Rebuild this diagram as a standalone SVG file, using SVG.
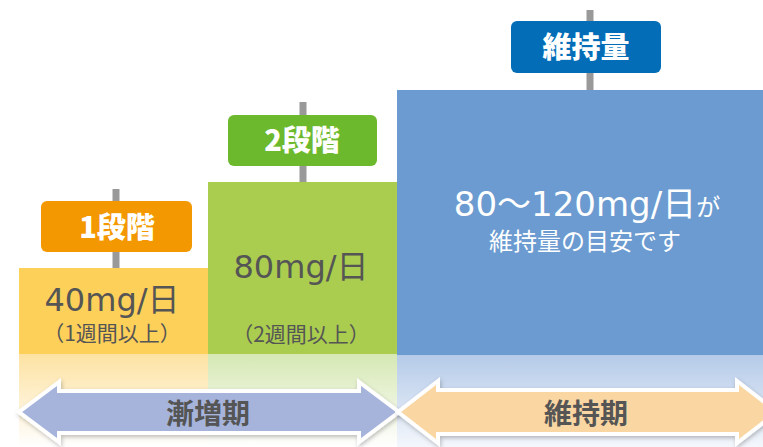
<svg xmlns="http://www.w3.org/2000/svg" width="763" height="447" viewBox="0 0 763 447">
<defs>
<linearGradient id="gy" x1="0" y1="0" x2="0" y2="1"><stop offset="0" stop-color="#FDE2A2"/><stop offset="1" stop-color="#FFFFFF"/></linearGradient>
<linearGradient id="gg" x1="0" y1="0" x2="0" y2="1"><stop offset="0" stop-color="#D6E8B4"/><stop offset="1" stop-color="#FFFFFF"/></linearGradient>
<linearGradient id="gb" x1="0" y1="0" x2="0" y2="1"><stop offset="0" stop-color="#B4CAE8"/><stop offset="1" stop-color="#F4F7FC"/></linearGradient>
<filter id="sh" x="-10%" y="-30%" width="120%" height="160%"><feDropShadow dx="1" dy="2" stdDeviation="2" flood-color="#000" flood-opacity="0.25"/></filter>
<style>
.t{font-family:"DejaVu Sans","Noto Sans CJK JP",sans-serif;}
.j{font-family:"Noto Sans CJK JP","Noto Sans",sans-serif;}
.dose{font-size:32px;fill:#555555;text-anchor:middle;}
.sub{font-size:21px;fill:#555555;text-anchor:middle;}
.lab{font-size:29px;font-weight:900;fill:#FFFFFF;text-anchor:middle;}
.per{font-size:28px;font-weight:bold;fill:#555555;text-anchor:middle;}
.stem{fill:#999999;}
</style>
</defs>
<rect x="0" y="0" width="763" height="447" fill="#FFFFFF"/>
<g id="fades">
<rect x="19" y="354" width="189" height="93" fill="url(#gy)"/>
<rect x="208" y="354" width="189" height="93" fill="url(#gg)"/>
<rect x="397" y="354" width="366" height="93" fill="url(#gb)"/>
</g>
<g id="step1">
<rect x="19" y="268" width="189" height="86" fill="#FDD05A"/>
<rect class="stem" x="112.5" y="189" width="7" height="79"/>
<rect x="41" y="201" width="151" height="51" rx="6" fill="#F39800"/>
<text class="j lab" x="117" y="238">1段階</text>
<text class="t dose" x="112" y="311">40mg/日</text>
<text class="j sub" x="112" y="341">（1週間以上）</text>
</g>
<g id="step2">
<rect x="208" y="182" width="189" height="172" fill="#AACD50"/>
<rect class="stem" x="299.5" y="102" width="7" height="80"/>
<rect x="228" y="115" width="149" height="51" rx="6" fill="#6DB92E"/>
<text class="j lab" x="302" y="151">2段階</text>
<text class="t dose" x="301" y="278">80mg/日</text>
<text class="j sub" x="301" y="342">（2週間以上）</text>
</g>
<g id="maintenance">
<rect x="397" y="90" width="366" height="265" fill="#6B9BD0"/>
<rect class="stem" x="586.5" y="10" width="7" height="80"/>
<rect x="511" y="21" width="150" height="52" rx="6" fill="#036EB7"/>
<text class="j lab" x="586" y="58" font-size="32">維持量</text>
<text class="t" x="587" y="216" font-size="34" fill="#FFFFFF" text-anchor="middle">80～120mg/日<tspan font-size="24">が</tspan></text>
<text class="j" x="585" y="250" font-size="24" fill="#FFFFFF" text-anchor="middle">維持量の目安です</text>
</g>
<g id="connectors">
<path d="M19,412 L59,382 L59,391 L359,391 L359,382 L399,412 L359,442 L359,433 L59,433 L59,442 Z" fill="#A6B4DC" stroke="#FFFFFF" stroke-width="4" stroke-linejoin="miter" filter="url(#sh)"/>
<text class="j per" x="208" y="424">漸増期</text>
<path d="M398,412 L438,381 L438,390 L737,390 L737,381 L777,412 L737,443 L737,434 L438,434 L438,443 Z" fill="#F9D6A2" stroke="#FFFFFF" stroke-width="4" stroke-linejoin="miter" filter="url(#sh)"/>
<text class="j per" x="586" y="424">維持期</text>
</g>
</svg>
